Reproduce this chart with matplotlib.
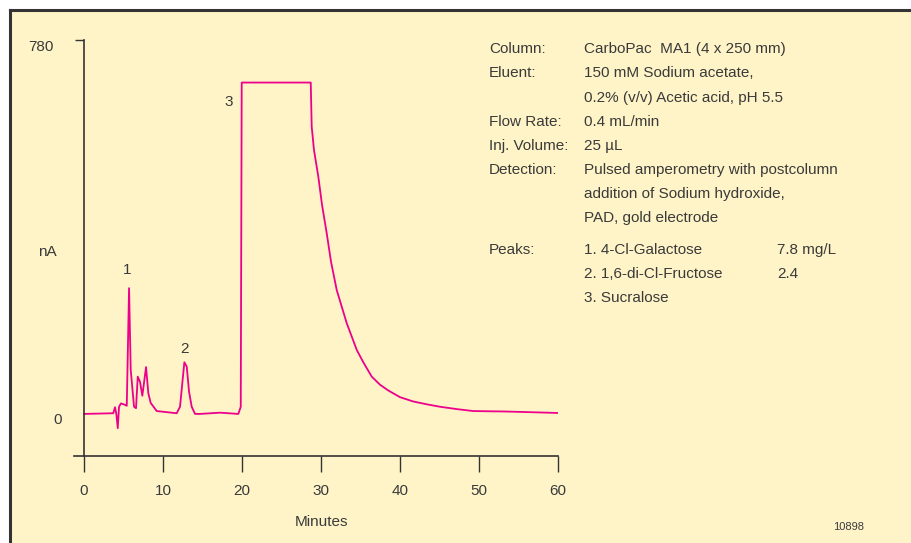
import numpy as np
import matplotlib
matplotlib.use('Agg')
import matplotlib.pyplot as plt
from matplotlib import font_manager
from matplotlib.patches import Rectangle
from matplotlib.lines import Line2D

# %% data (minutes, nA)
t = [0.0, 3.7, 3.92, 4.09, 4.27, 4.43, 4.68, 5.19, 5.41, 5.70, 5.91, 6.33, 6.58,
     6.80, 7.09, 7.38, 7.85, 8.14, 8.44, 9.20, 11.73, 12.15, 12.70, 13.0, 13.29,
     13.63, 14.05, 14.68, 17.22, 19.53, 19.84, 19.96, 28.70, 28.82, 29.11, 29.66,
     30.13, 30.72, 31.27, 31.99, 33.25, 34.52, 35.32, 36.42, 37.47, 38.52, 40.0,
     41.68, 43.42, 45.06, 47.22, 49.28, 53.51, 60.0]
signal = [-2, -0.6, 12, -2, -32, 13, 20, 17, 15, 261, 90, 13, 10,
          76, 65, 36, 96, 41, 21, 4, -0.6, 13, 106, 97, 45,
          13, -2, -2, 0.6, -2, 13, 691, 691, 599, 550, 494,
          435, 376, 316, 257, 188, 132, 107, 76, 59, 47, 33,
          24, 18, 13, 8, 4, 3, 0]

peak_ids = ['1', '2', '3']
peak_pos = [(5.44, 299), (12.7, 134), (18.35, 650)]

xticks = [0, 10, 20, 30, 40, 50, 60]

info_keys = ['Column:', 'Eluent:', '', 'Flow Rate:', 'Inj. Volume:', 'Detection:', '', '',
             'Peaks:', '', '']
info_vals = ['CarboPac  MA1 (4 x 250 mm)', '150 mM Sodium acetate,',
             '0.2% (v/v) Acetic acid, pH 5.5', '0.4 mL/min', '25 µL',
             'Pulsed amperometry with postcolumn', 'addition of Sodium hydroxide,',
             'PAD, gold electrode', '1. 4-Cl-Galactose', '2. 1,6-di-Cl-Fructose', '3. Sucralose']
info_amt = ['', '', '', '', '', '', '', '', '7.8 mg/L', '2.4', '']
info_y = [49, 73, 98, 122, 146, 170, 194, 218, 250, 274, 298]

# %% style
names = {f.name for f in font_manager.fontManager.ttflist}
fam = 'Liberation Sans Narrow' if 'Liberation Sans Narrow' in names else 'Liberation Sans'
plt.rcParams['font.family'] = [fam, 'DejaVu Sans']
txt = '#3a3a3a'
bg = '#FFF4C7'
W, H = 911, 543
fs = 12.5 if fam == 'Liberation Sans Narrow' else 11

fig = plt.figure(figsize=(W / 100, H / 100), dpi=100, facecolor='white')
fig.add_artist(Rectangle((10 / W, 0), 1, 1 - 10 / H, transform=fig.transFigure,
                         facecolor=bg, edgecolor='none', zorder=-10))
fig.add_artist(Line2D([10 / W, 1], [1 - 10 / H] * 2, transform=fig.transFigure,
                      color='#333333', lw=2.2))
fig.add_artist(Line2D([10 / W] * 2, [0, 1 - 10 / H], transform=fig.transFigure,
                      color='#333333', lw=2.2))

# axes box: x from px 74 to 558, y from px 40 (780) to 456
ax = fig.add_axes([74 / W, 1 - 456 / H, (558 - 74) / W, (456 - 40) / H])
ax.set_facecolor('none')
ax.plot(t, signal, color='#EC008C', lw=1.3)
ax.set_xlim(-1.27, 60)
ax.set_ylim(-90, 780)

for s in ['top', 'right']:
    ax.spines[s].set_visible(False)
ax.spines['left'].set_position(('data', 0))
ax.spines['left'].set_bounds(-90, 780)
for s in ['left', 'bottom']:
    ax.spines[s].set_color('#333333')
    ax.spines[s].set_linewidth(1.2)

ax.set_xticks(xticks)
ax.set_xticklabels([str(v) for v in xticks], fontsize=fs, color=txt)
ax.tick_params(axis='x', direction='out', length=11.5, width=1, color='#333333', pad=9)
ax.set_yticks([780])
ax.set_yticklabels([''])
ax.tick_params(axis='y', direction='out', length=6.5, width=1, color='#333333')

ax.text(-3.8, 766, '780', ha='right', va='center', fontsize=fs, color=txt)
ax.text(-2.8, -14.6, '0', ha='right', va='center', fontsize=fs, color=txt)

for lab, (px, py) in zip(peak_ids, peak_pos):
    ax.text(px, py, lab, ha='center', va='center', fontsize=fs, color=txt)

fig.text(47 / W, 1 - 252 / H, 'nA', ha='center', va='center', fontsize=fs, color=txt)
fig.text(321 / W, 1 - 522 / H, 'Minutes', ha='center', va='center', fontsize=fs, color=txt)
fig.text(849 / W, 1 - 527 / H, '10898', ha='center', va='center', fontsize=8, color=txt)

for k, v, a, yy in zip(info_keys, info_vals, info_amt, info_y):
    if k:
        fig.text(489 / W, 1 - yy / H, k, ha='left', va='center', fontsize=fs, color=txt)
    fig.text(584 / W, 1 - yy / H, v, ha='left', va='center', fontsize=fs, color=txt)
    if a:
        fig.text(777 / W, 1 - yy / H, a, ha='left', va='center', fontsize=fs, color=txt)

fig.savefig('out.png', dpi=100, facecolor='white')
